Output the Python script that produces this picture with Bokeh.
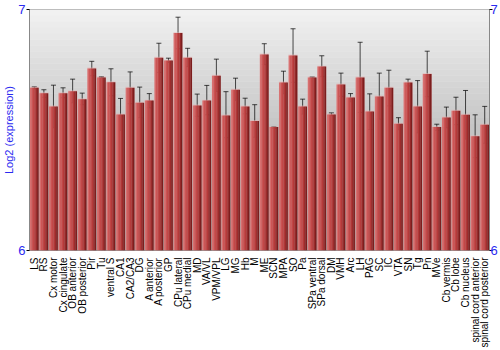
import math
from bokeh.plotting import figure
from bokeh.models import (ColumnDataSource, FixedTicker, LinearAxis, Whisker,
                          TeeHead, BoxAnnotation, Range1d)
from bokeh.transform import dodge
from bokeh.embed import file_html
from bokeh.resources import INLINE

regions = ["LS", "RS", "Cx motor", "Cx cingulate", "OB anterior", "OB posterior",
           "Pir", "Tu", "ventral S", "CA1", "CA2/CA3", "DG", "A anterior",
           "A posterior", "GP", "CPu lateral", "CPu medial", "MD", "VA/VL",
           "VPM/VPL", "LG", "MG", "Hb", "M", "ME", "SCN", "MPA", "SO", "Pa",
           "SPa ventral", "SPa dorsal", "DM", "VMH", "Arc", "LH", "PAG", "SC",
           "IC", "VTA", "SN", "Tg", "Pn", "MVe", "Cb vermis", "Cb lobe",
           "Cb nucleus", "spinal cord anterior", "spinal cord posterior"]

values = [6.675, 6.653, 6.598, 6.653, 6.661, 6.628, 6.755, 6.718, 6.698, 6.564,
          6.675, 6.613, 6.622, 6.800, 6.788, 6.902, 6.800, 6.602, 6.622, 6.725,
          6.560, 6.667, 6.598, 6.537, 6.813, 6.512, 6.697, 6.809, 6.598, 6.718,
          6.763, 6.564, 6.689, 6.635, 6.718, 6.577, 6.639, 6.675, 6.526, 6.697,
          6.598, 6.732, 6.512, 6.552, 6.580, 6.563, 6.474, 6.522]

err_upper = [6.679, 6.667, 6.686, 6.675, 6.711, 6.653, 6.785, 6.721, 6.754, 6.631,
             6.741, 6.678, 6.651, 6.860, 6.798, 6.968, 6.839, 6.649, 6.685, 6.794,
             6.659, 6.715, 6.632, 6.605, 6.858, 6.513, 6.744, 6.920, 6.628, 6.720,
             6.808, 6.571, 6.736, 6.651, 6.864, 6.650, 6.736, 6.748, 6.551, 6.711,
             6.705, 6.827, 6.524, 6.595, 6.636, 6.664, 6.563, 6.598]

err_lower = [6.671, 6.636, 6.509, 6.634, 6.613, 6.605, 6.725, 6.717, 6.642, 6.498,
             6.609, 6.551, 6.592, 6.739, 6.780, 6.837, 6.763, 6.557, 6.563, 6.660,
             6.468, 6.622, 6.567, 6.470, 6.771, 6.507, 6.650, 6.698, 6.566, 6.716,
             6.721, 6.559, 6.640, 6.617, 6.573, 6.502, 6.545, 6.600, 6.501, 6.683,
             6.488, 6.638, 6.498, 6.509, 6.522, 6.462, 6.385, 6.445]

y_ticks = [6, 7]
y_min, y_max = 6, 7

FONT = "Liberation Sans"
BLUE = "#2a2af0"

src = ColumnDataSource(dict(region=regions, value=values,
                            upper=err_upper, lower=err_lower,
                            halo=[v + 0.004 for v in values]))

p = figure(x_range=regions, y_range=Range1d(y_min, y_max), width=500, height=350,
           output_backend="svg", toolbar_location=None,
           min_border_left=27, min_border_right=10, min_border_top=9,
           min_border_bottom=98, background_fill_color="white",
           border_fill_color="white", outline_line_color="#888888")

# background vertical gradient of the plotting area
n_bg = 40
top_c, bot_c = 242, 150
for i in range(n_bg):
    b = y_min + (y_max - y_min) * i / n_bg
    t = y_min + (y_max - y_min) * (i + 1) / n_bg + 0.002
    frac = (i + 0.5) / n_bg
    g = int(round(bot_c + (top_c - bot_c) * frac))
    col = "#%02x%02x%02x" % (g, g, g)
    p.add_layout(BoxAnnotation(bottom=b, top=t, fill_color=col, fill_alpha=1.0,
                               line_color=None, level="underlay"))

# soft halo behind each bar
p.vbar(x="region", top="halo", bottom=y_min, width=0.96, source=src,
       fill_color="#e6b4b4", fill_alpha=0.55, line_color=None)

# bars drawn as vertical stripes to imitate a horizontal gradient
stripe_cols = ["#d87070", "#cc5555", "#c24848", "#b43a3a", "#9c2c2c", "#7c1e1e"]
n_s = len(stripe_cols)
bw = 0.9
sw = bw / n_s
for k, c in enumerate(stripe_cols):
    off = -bw / 2 + sw * (k + 0.5)
    p.vbar(x=dodge("region", off, range=p.x_range), top="value", bottom=y_min,
           width=sw + 0.02, source=src, fill_color=c, line_color=None)

# error bars
p.add_layout(Whisker(source=src, base="region", upper="upper", lower="lower",
                     line_color="black", line_alpha=0.7, line_width=1,
                     upper_head=TeeHead(size=5, line_color="black", line_alpha=0.7),
                     lower_head=TeeHead(size=5, line_color="black", line_alpha=0.7)))

p.xgrid.grid_line_color = None
p.ygrid.grid_line_color = None

right = LinearAxis(axis_label=None)
p.add_layout(right, "right")

for ax in p.yaxis:
    ax.ticker = FixedTicker(ticks=y_ticks)
    ax.minor_tick_line_color = None
    ax.major_tick_in = 0
    ax.major_tick_out = 3
    ax.major_tick_line_color = "black"
    ax.axis_line_color = "#888888"
    ax.major_label_text_color = BLUE
    ax.major_label_text_font = FONT
    ax.major_label_text_font_size = "13px"
    ax.major_label_standoff = 1
    ax.axis_label_standoff = 0

right.major_label_standoff = -2

p.yaxis[0].axis_label = "Log2 (expression)"
p.yaxis[0].axis_label_text_color = BLUE
p.yaxis[0].axis_label_text_font = FONT
p.yaxis[0].axis_label_text_font_size = "11px"
p.yaxis[0].axis_label_text_font_style = "normal"

xa = p.xaxis[0]
xa.major_label_orientation = math.pi / 2
xa.axis_line_color = None
xa.major_tick_line_color = None
xa.minor_tick_line_color = None
xa.major_label_text_font = FONT
xa.major_label_text_font_size = "10px"
xa.major_label_text_color = "black"
xa.major_label_standoff = 1

open("out.html", "w").write(file_html(p, INLINE))
